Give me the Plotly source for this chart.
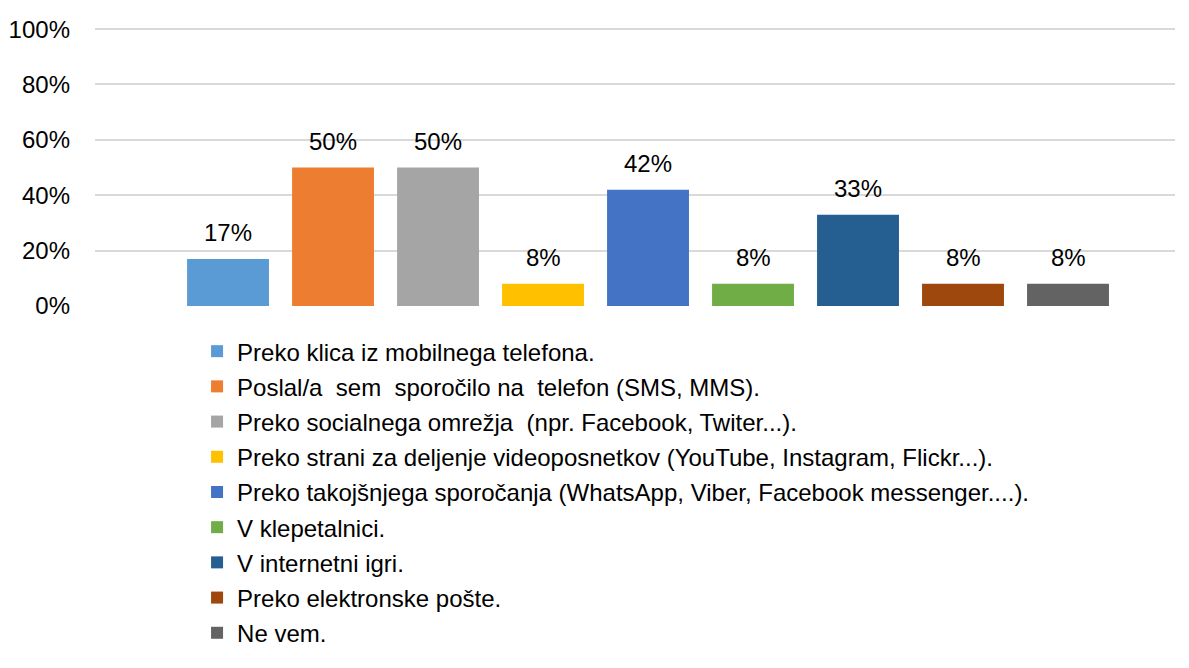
import plotly.graph_objects as go

categories = [
    "Preko klica iz mobilnega telefona.",
    "Poslal/a  sem  sporočilo na  telefon (SMS, MMS).",
    "Preko socialnega omrežja  (npr. Facebook, Twiter...).",
    "Preko strani za deljenje videoposnetkov (YouTube, Instagram, Flickr...).",
    "Preko takojšnjega sporočanja (WhatsApp, Viber, Facebook messenger....).",
    "V klepetalnici.",
    "V internetni igri.",
    "Preko elektronske pošte.",
    "Ne vem.",
]
values = [0.17, 0.50, 0.50, 0.08, 0.42, 0.08, 0.33, 0.08, 0.08]
colors = ["#5B9BD5", "#ED7D31", "#A5A5A5", "#FFC000", "#4472C4",
          "#70AD47", "#255E91", "#9E480E", "#636363"]
y_ticks = [0, 0.2, 0.4, 0.6, 0.8, 1.0]

FONT = "Liberation Sans, Arial, sans-serif"
FS = 24

fig = go.Figure()
for i, (name, v, c) in enumerate(zip(categories, values, colors)):
    fig.add_trace(go.Bar(
        x=[i], y=[v], name=name, marker_color=c, width=0.78,
        legendgroup=f"g{i}", hoverinfo="skip",
    ))
    fig.add_annotation(x=i, y=v, text=f"{v:.0%}", showarrow=False,
                       yanchor="bottom", yshift=11,
                       font=dict(family=FONT, size=FS, color="#000000"))

fig.update_layout(
    template="none",
    width=1181, height=660,
    margin=dict(l=87, r=14, t=20, b=362),
    paper_bgcolor="white", plot_bgcolor="white",
    font=dict(family=FONT, size=FS, color="#000000"),
    showlegend=True,
    barmode="overlay",
    legend=dict(
        orientation="v",
        x=0.0945, y=-0.083, xanchor="left", yanchor="top",
        font=dict(family=FONT, size=FS, color="#000000"),
        tracegroupgap=1, itemclick=False, itemdoubleclick=False,
        bgcolor="rgba(0,0,0,0)", borderwidth=0,
    ),
    xaxis=dict(range=[-1.267, 9.019], showticklabels=False, showgrid=False,
               zeroline=False, showline=False, ticks="", automargin=False),
    yaxis=dict(range=[0, 1.004], tickvals=y_ticks, tickformat=".0%",
               showgrid=True, gridcolor="#D9D9D9", gridwidth=1.5,
               zeroline=False, showline=False, ticks="",
               ticklabelstandoff=24, automargin=False,
               tickfont=dict(family=FONT, size=FS, color="#000000")),
)

fig.write_html("out.html")
